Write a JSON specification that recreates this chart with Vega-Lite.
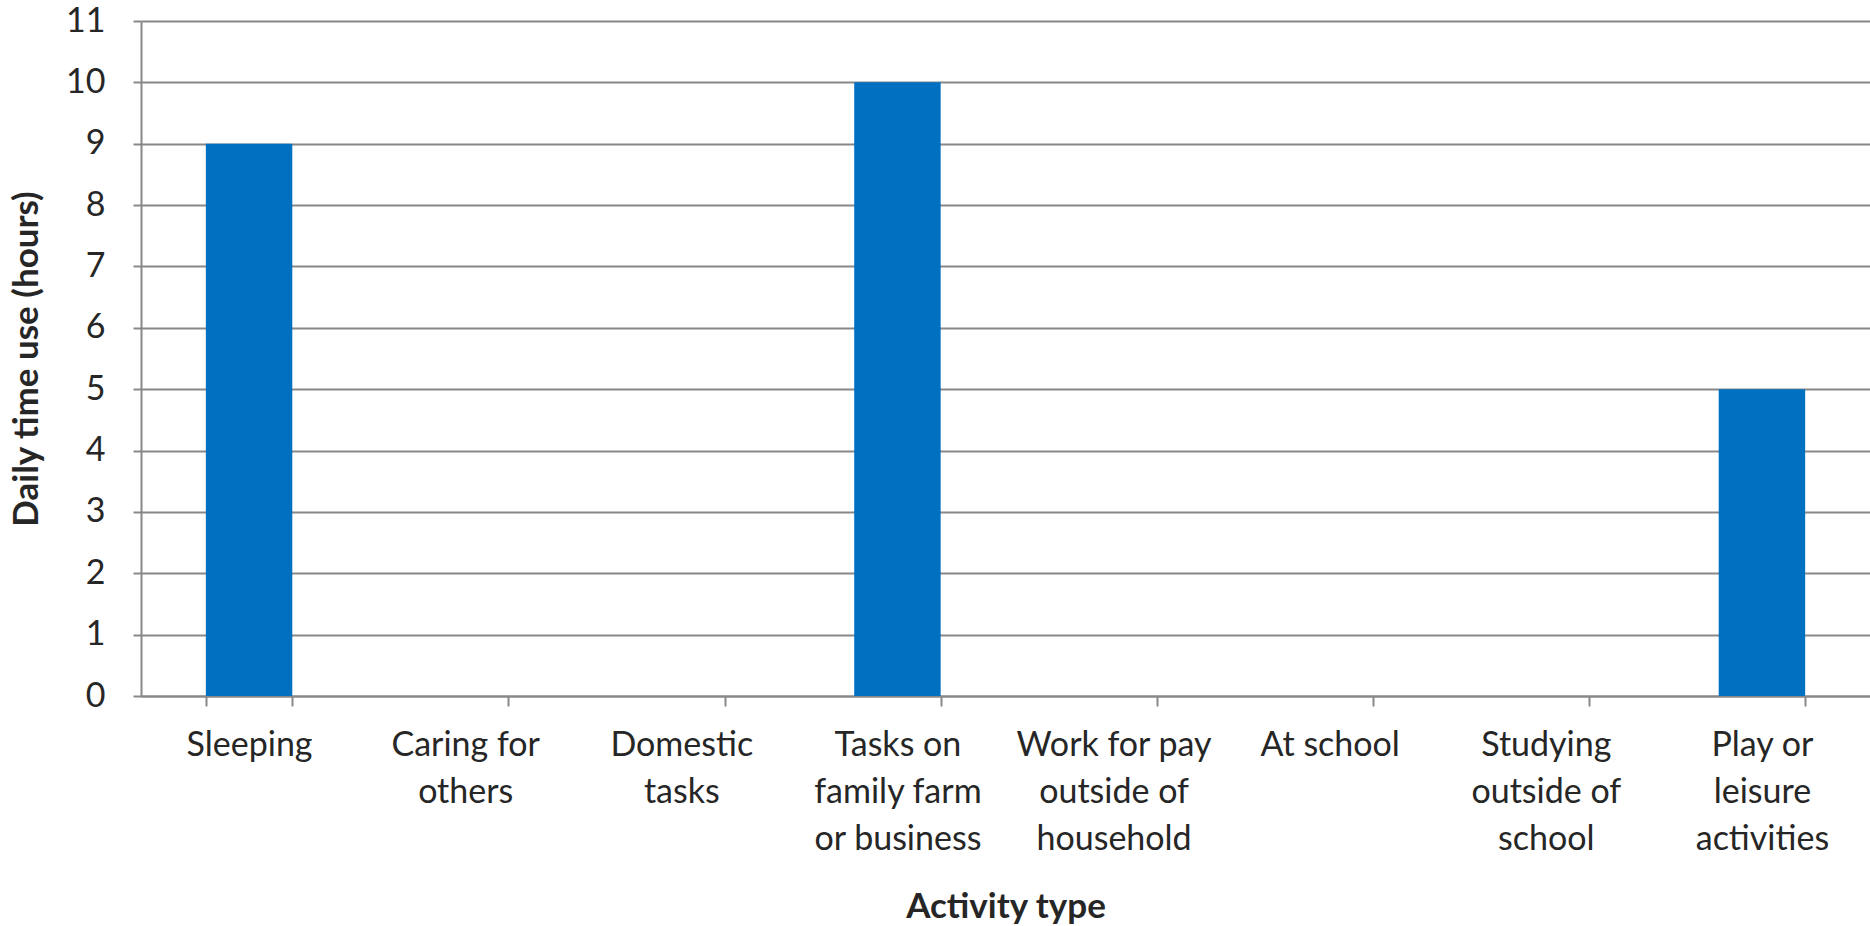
{
  "$schema": "https://vega.github.io/schema/vega-lite/v6.json",
  "autosize": "none",
  "width": 1729,
  "height": 675,
  "padding": {"left": 141, "top": 21, "right": 0, "bottom": 230},
  "background": "white",
  "data": {
    "values": [
      {"activity": "Sleeping", "hours": 9},
      {"activity": "Caring for others", "hours": 0},
      {"activity": "Domestic tasks", "hours": 0},
      {"activity": "Tasks on family farm or business", "hours": 10},
      {"activity": "Work for pay outside of household", "hours": 0},
      {"activity": "At school", "hours": 0},
      {"activity": "Studying outside of school", "hours": 0},
      {"activity": "Play or leisure activities", "hours": 5}
    ]
  },
  "mark": {"type": "bar", "color": "#0070C0"},
  "encoding": {
    "x": {
      "field": "activity",
      "type": "nominal",
      "sort": null,
      "scale": {"paddingInner": 0.6, "paddingOuter": 0.3},
      "axis": {
        "title": "Activity type",
        "titleFont": "Lato",
        "titleFontSize": 35,
        "titleFontWeight": "bold",
        "titleColor": "#262626",
        "titleY": 210,
        "titleBaseline": "middle",
        "labelFont": "Lato",
        "labelFontSize": 34,
        "labelColor": "#262626",
        "labelAngle": 0,
        "labelLineHeight": 47,
        "labelPadding": 22,
        "labelLimit": 400,
        "tickBand": "extent",
        "tickSize": 10,
        "tickWidth": 2,
        "tickColor": "#888888",
        "domainColor": "#888888",
        "domainWidth": 2,
        "grid": false,
        "labelExpr": "datum.value == 'Caring for others' ? ['Caring for', 'others'] : datum.value == 'Domestic tasks' ? ['Domestic', 'tasks'] : datum.value == 'Tasks on family farm or business' ? ['Tasks on', 'family farm', 'or business'] : datum.value == 'Work for pay outside of household' ? ['Work for pay', 'outside of', 'household'] : datum.value == 'Studying outside of school' ? ['Studying', 'outside of', 'school'] : datum.value == 'Play or leisure activities' ? ['Play or', 'leisure', 'activities'] : datum.value"
      }
    },
    "y": {
      "field": "hours",
      "type": "quantitative",
      "scale": {"domain": [0, 11], "nice": false},
      "axis": {
        "title": "Daily time use (hours)",
        "titleFont": "Lato",
        "titleFontSize": 35,
        "titleFontWeight": "bold",
        "titleColor": "#262626",
        "titleX": -115,
        "titleBaseline": "middle",
        "labelFont": "Lato",
        "labelFontSize": 34,
        "labelColor": "#262626",
        "labelPadding": 28,
        "values": [0, 1, 2, 3, 4, 5, 6, 7, 8, 9, 10, 11],
        "tickSize": 8,
        "tickWidth": 2,
        "tickColor": "#888888",
        "domainColor": "#888888",
        "domainWidth": 2,
        "grid": true,
        "gridColor": "#888888",
        "gridWidth": 2
      }
    }
  },
  "config": {"view": {"stroke": null}}
}
